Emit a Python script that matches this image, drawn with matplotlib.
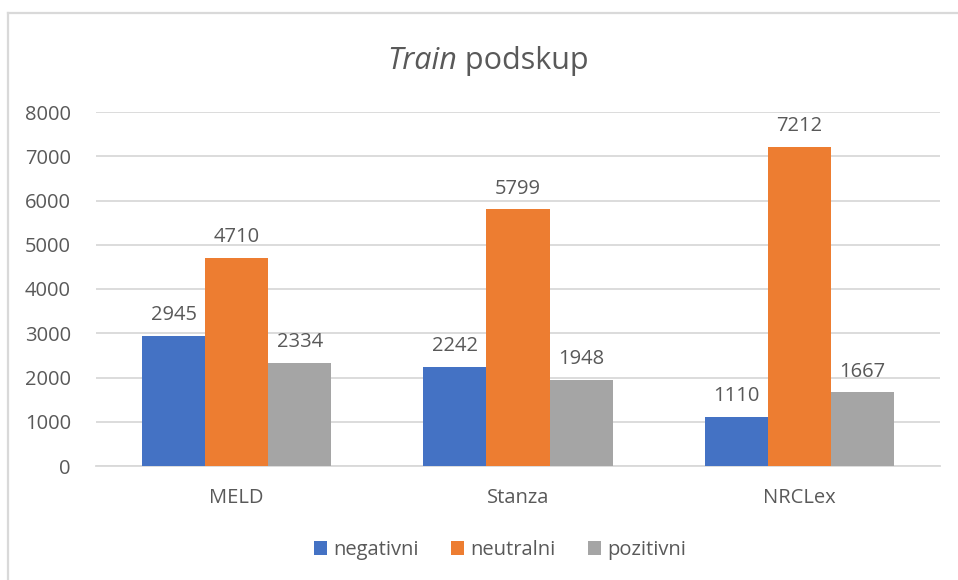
import matplotlib
matplotlib.use("Agg")
import matplotlib.pyplot as plt
import numpy as np
from matplotlib.lines import Line2D

categories = ["MELD", "Stanza", "NRCLex"]
series_names = ["negativni", "neutralni", "pozitivni"]
negativni = [2945, 2242, 1110]
neutralni = [4710, 5799, 7212]
pozitivni = [2334, 1948, 1667]
yticks = [0, 1000, 2000, 3000, 4000, 5000, 6000, 7000, 8000]

colors = ["#4472C4", "#ED7D31", "#A5A5A5"]
txt = "#595959"
plt.rcParams['font.family'] = ['Open Sans', 'DejaVu Sans']

fig = plt.figure(figsize=(9.58, 5.8), dpi=100)
# chart border (only left and top visible in the cropped screenshot)
fig.add_artist(Line2D([7.5/958, 7.5/958], [0, 1-13/580], transform=fig.transFigure,
                      color="#D9D9D9", linewidth=1.6))
fig.add_artist(Line2D([7.5/958, 1], [1-13/580, 1-13/580], transform=fig.transFigure,
                      color="#D9D9D9", linewidth=1.6))

ax = fig.add_axes([96/958, 1-466/580, 844/958, 354/580])

x = np.arange(len(categories))
w = 0.224
for i, (vals, name) in enumerate(zip([negativni, neutralni, pozitivni], series_names)):
    pos = x + (i - 1) * w
    ax.bar(pos, vals, w, color=colors[i], label=name, zorder=3)
    for xp, v in zip(pos, vals):
        ax.text(xp, v + 240, str(v), ha="center", va="bottom", fontsize=14.5, color=txt)

ax.set_xlim(-0.5, 2.5)
ax.set_ylim(0, 8000)
ax.set_yticks(yticks)
ax.set_yticklabels([str(t) for t in yticks], fontsize=14.5, color=txt)
ax.set_xticks(x)
ax.set_xticklabels(categories, fontsize=14.5, color=txt)
ax.tick_params(axis="both", length=0)
ax.tick_params(axis="y", pad=18)
ax.tick_params(axis="x", pad=16)
ax.yaxis.grid(True, color="#D9D9D9", linewidth=1.3, zorder=0)
for s in ["top", "right", "left"]:
    ax.spines[s].set_visible(False)
ax.spines["bottom"].set_color("#D9D9D9")
ax.spines["bottom"].set_linewidth(1.3)

# title: italic "Train" + regular "podskup"
t1 = fig.text(0, 0, "Train", style="italic", fontsize=22, color=txt, va="center")
t2 = fig.text(0, 0, " podskup", fontsize=22, color=txt, va="center")
fig.canvas.draw()
r = fig.canvas.get_renderer()
b1 = t1.get_window_extent(r)
b2 = t2.get_window_extent(r)
total = b1.width + b2.width
x0 = 488 - total / 2
ty = 1 - 61/580
t1.set_position((x0 / 958, ty))
t2.set_position(((x0 + b1.width) / 958, ty))

fig.legend(loc="center", bbox_to_anchor=(500/958, 1-550/580), ncol=3, frameon=False,
           fontsize=14.5, handlelength=0.65, handleheight=0.65, handletextpad=0.3,
           columnspacing=1.6, labelcolor=txt)

fig.savefig("out.png", dpi=100)
